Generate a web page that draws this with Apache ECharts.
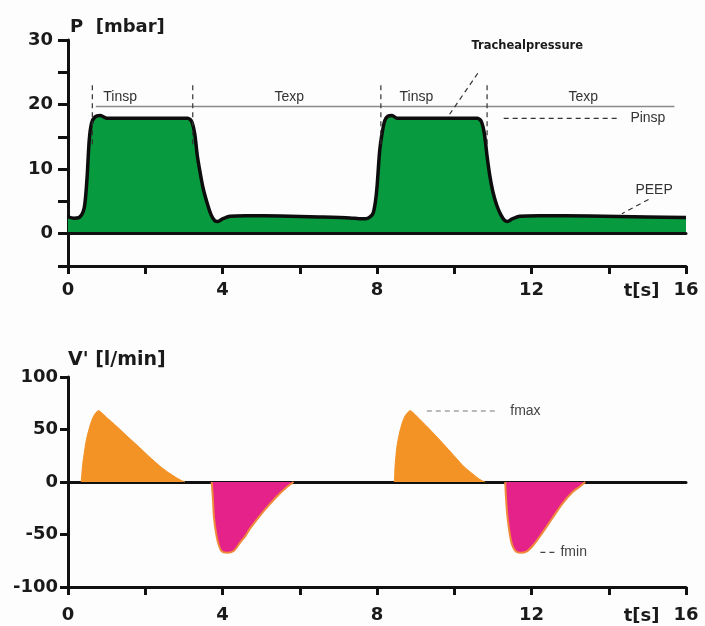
<!DOCTYPE html>
<html>
<head>
<meta charset="utf-8">
<script src="https://cdn.jsdelivr.net/npm/echarts@6/dist/echarts.min.js"></script>
<style>
html,body{margin:0;padding:0;background:#fdfdfd;}
#chart{width:705px;height:626px;}
</style>
</head>
<body>
<div id="chart"></div>
<script>
// ---------- DATA ----------
// Tracheal pressure P [mbar] over time t [s]
const pressTime  = [0, 0.15, 0.28, 0.36, 0.42, 0.46, 0.5, 0.55, 0.61, 0.7, 0.83, 1.0, 2.0, 3.1, 3.2, 3.28, 3.35, 3.42, 3.5, 3.6, 3.7, 3.8, 3.88, 4.0, 4.2, 4.6, 5.5, 6.5, 7.3, 7.6, 7.7, 7.82, 7.9, 7.96, 8.0, 8.07, 8.13, 8.2, 8.28, 8.39, 8.52, 9.5, 10.6, 10.7, 10.78, 10.85, 10.92, 11.0, 11.1, 11.2, 11.3, 11.38, 11.5, 11.7, 12.2, 13.5, 15.0, 16.0];
const pressValue = [2.6, 2.4, 2.5, 3.0, 4.0, 6.0, 9.3, 14.5, 17.1, 18.1, 18.3, 17.9, 17.9, 17.9, 17.4, 15.5, 12.0, 9.5, 7.0, 4.8, 3.0, 2.0, 1.9, 2.3, 2.7, 2.8, 2.75, 2.6, 2.45, 2.3, 2.3, 2.6, 3.2, 5.0, 7.2, 12.9, 15.5, 17.5, 18.2, 18.3, 17.9, 17.9, 17.9, 17.4, 15.5, 12.0, 9.0, 6.5, 4.4, 3.0, 2.1, 1.9, 2.3, 2.7, 2.8, 2.75, 2.6, 2.5];

// Flow V' [l/min]: inspiration (positive) and expiration (negative)
const insp1Time  = [0.34, 0.36, 0.38, 0.41, 0.44, 0.48, 0.53, 0.59, 0.66, 0.72, 0.79, 1.0, 1.26, 1.55, 1.86, 2.12, 2.38, 2.6, 2.81, 2.93, 3.03];
const insp1Value = [0, 9, 16.7, 25, 32.5, 41, 48.3, 56, 62.6, 66, 68, 61.5, 53, 43, 32.6, 23.5, 15.1, 9, 4, 1.5, 0];
const insp2Time  = [8.45, 8.46, 8.47, 8.49, 8.51, 8.55, 8.59, 8.65, 8.72, 8.79, 8.86, 9.06, 9.29, 9.55, 9.81, 10.03, 10.24, 10.45, 10.62, 10.72, 10.8];
const insp2Value = [0, 9, 16.7, 25, 32.5, 41, 48, 56, 62.6, 66, 68, 61.5, 53, 43, 32.6, 23.5, 15, 8.5, 3.5, 1.2, 0];
const exp1Time   = [3.72, 3.75, 3.78, 3.84, 3.9, 3.98, 4.11, 4.28, 4.45, 4.6, 4.72, 5.06, 5.4, 5.66, 5.84];
const exp1Value  = [0, -15, -34, -50, -59.6, -66, -67.4, -66, -58, -51, -44, -28, -14, -5, 0];
const exp2Time   = [11.32, 11.34, 11.38, 11.44, 11.5, 11.59, 11.71, 11.88, 12.05, 12.27, 12.53, 12.79, 13.05, 13.26, 13.39];
const exp2Value  = [0, -15, -34, -50, -60, -66, -67.4, -66, -60, -49, -35, -21, -10, -4, 0];

// Axis ticks
const xTicks = [0, 4, 8, 12, 16];
const pTickLabels = [0, 10, 20, 30];
const fTickLabels = [-100, -50, 0, 50, 100];

// Annotations (data coordinates)
const phaseLabels = ['Tinsp', 'Texp', 'Tinsp', 'Texp'];
const phaseLabelTime = [1.35, 5.73, 9.02, 13.34];
const phaseLabelValue = 21.2;
const phaseBoundTime = [0.63, 3.23, 8.1, 10.85];
const phaseBoundRange = [23, 13.5];
const phaseLineValue = 19.7;
const phaseLineRange = [0.72, 15.7];

// ---------- CHART ----------
const zip = (a, b) => a.map((t, i) => [t, b[i]]);
const chart = echarts.init(document.getElementById('chart'), null, {renderer: 'canvas'});

const BOLD = 'bold 18px "DejaVu Sans", Verdana, sans-serif';
const axisLabelStyle = {color: '#1a1a1a', fontFamily: 'DejaVu Sans', fontWeight: 'bold', fontSize: 18};
const blackLine = {color: '#111', width: 3};

function xAxisMain(g, margin) {
  return {
    type: 'value', gridIndex: g, min: 0, max: 16, interval: 2,
    axisLine: {show: true, onZero: false, lineStyle: blackLine},
    axisTick: {show: true, length: 8, lineStyle: {color: '#111', width: 3}},
    axisLabel: {show: true, margin: margin, ...axisLabelStyle,
      formatter: v => (xTicks.indexOf(v) >= 0 ? String(v) : '')},
    splitLine: {show: false}
  };
}
function xAxisZero(g, z) {
  return {
    type: 'value', gridIndex: g, min: 0, max: 16, position: 'top', z: z,
    axisLine: {show: true, onZero: true, lineStyle: blackLine},
    axisTick: {show: false}, axisLabel: {show: false}, splitLine: {show: false}
  };
}

const option = {
  backgroundColor: '#fdfdfd',
  animation: false,
  grid: [
    {left: 68, right: 19, top: 40, height: 226},
    {left: 68, right: 19, top: 377, height: 210}
  ],
  xAxis: [
    xAxisMain(0, 15),
    xAxisMain(1, 19),
    xAxisZero(0, 5),
    xAxisZero(1, 0)
  ],
  yAxis: [
    {
      type: 'value', gridIndex: 0, min: -5, max: 30, interval: 5,
      axisLine: {show: true, onZero: false, lineStyle: blackLine},
      axisTick: {show: true, length: 10, lineStyle: {color: '#111', width: 3}},
      axisLabel: {margin: 15, ...axisLabelStyle,
        formatter: v => (pTickLabels.indexOf(v) >= 0 ? String(v) : '')},
      splitLine: {show: false}
    },
    {
      type: 'value', gridIndex: 1, min: -100, max: 100, interval: 50,
      axisLine: {show: true, onZero: false, lineStyle: blackLine},
      axisTick: {show: true, length: 8, lineStyle: {color: '#111', width: 3}},
      axisLabel: {margin: 10, ...axisLabelStyle,
        formatter: v => (fTickLabels.indexOf(v) >= 0 ? String(v) : '')},
      splitLine: {show: false}
    }
  ],
  series: [
    {
      type: 'line', xAxisIndex: 0, yAxisIndex: 0, z: 3,
      data: zip(pressTime, pressValue),
      smooth: 0.25, symbol: 'none',
      lineStyle: {color: '#0d0d0d', width: 3.5},
      areaStyle: {color: '#089a3e', opacity: 1, origin: 0}
    },
    {
      type: 'line', xAxisIndex: 1, yAxisIndex: 1, z: 3,
      data: zip(insp1Time, insp1Value), smooth: 0.15, symbol: 'none',
      lineStyle: {color: '#f39225', width: 1},
      areaStyle: {color: '#f39225', opacity: 1, origin: 0}
    },
    {
      type: 'line', xAxisIndex: 1, yAxisIndex: 1, z: 3,
      data: zip(insp2Time, insp2Value), smooth: 0.15, symbol: 'none',
      lineStyle: {color: '#f39225', width: 1},
      areaStyle: {color: '#f39225', opacity: 1, origin: 0}
    },
    {
      type: 'line', xAxisIndex: 1, yAxisIndex: 1, z: 3,
      data: zip(exp1Time, exp1Value), smooth: 0.3, symbol: 'none',
      lineStyle: {color: '#f0883a', width: 2},
      areaStyle: {color: '#e5228a', opacity: 1, origin: 0}
    },
    {
      type: 'line', xAxisIndex: 1, yAxisIndex: 1, z: 3,
      data: zip(exp2Time, exp2Value), smooth: 0.3, symbol: 'none',
      lineStyle: {color: '#f0883a', width: 2},
      areaStyle: {color: '#e5228a', opacity: 1, origin: 0}
    }
  ]
};
chart.setOption(option);

// ---------- ANNOTATIONS (placed via data -> pixel conversion) ----------
const px = (g, t, v) => chart.convertToPixel({gridIndex: g}, [t, v]);
const gfx = [];
function text(g, t, v, str, font, fill, align) {
  const p = px(g, t, v);
  gfx.push({type: 'text', x: p[0], y: p[1], z: 20,
    style: {text: str, font: font, fill: fill, textAlign: align || 'center', textVerticalAlign: 'middle',
            align: align || 'center', verticalAlign: 'middle'}});
}
function line(g, a, b, stroke, width, dash) {
  const p1 = px(g, a[0], a[1]), p2 = px(g, b[0], b[1]);
  gfx.push({type: 'line', z: 20, shape: {x1: p1[0], y1: p1[1], x2: p2[0], y2: p2[1]},
    style: {stroke: stroke, lineWidth: width, lineDash: dash || null}});
}
const LABEL = '14px "Liberation Sans", Arial, sans-serif';

// top chart
line(0, [phaseLineRange[0], phaseLineValue], [phaseLineRange[1], phaseLineValue], '#8a8a8a', 1.5);
phaseBoundTime.forEach(t => line(0, [t, phaseBoundRange[0]], [t, phaseBoundRange[1]], '#333', 1.2, [5, 4]));
phaseLabels.forEach((s, i) => text(0, phaseLabelTime[i], phaseLabelValue, s, LABEL, '#333'));
text(0, 11.89, 29.1, 'Trachealpressure', 'bold 11.5px "DejaVu Sans", Verdana, sans-serif', '#1a1a1a');
line(0, [10.61, 24.85], [9.88, 18.5], '#333', 1.2, [5, 4]);
line(0, [11.28, 17.86], [14.26, 17.86], '#333', 1.2, [5, 4]);
text(0, 14.56, 17.9, 'Pinsp', LABEL, '#333', 'left');
text(0, 14.69, 6.7, 'PEEP', LABEL, '#333', 'left');
line(0, [15.03, 5.3], [14.34, 3.1], '#333', 1.2, [5, 4]);

// bottom chart
line(1, [9.29, 67.6], [11.06, 67.6], '#777', 1.2, [5, 4]);
text(1, 11.45, 67.6, 'fmax', LABEL, '#444', 'left');
line(1, [12.23, -67], [12.62, -67], '#444', 1.2, [5, 4]);
text(1, 12.75, -67, 'fmin', LABEL, '#444', 'left');

// titles and axis unit labels
const topLeft0 = px(0, 0, 30);
gfx.push({type: 'text', x: topLeft0[0] + 2, y: topLeft0[1] - 13, z: 20,
  style: {text: 'P  [mbar]', font: BOLD, fill: '#1a1a1a', textAlign: 'left', textVerticalAlign: 'middle', align: 'left', verticalAlign: 'middle'}});
const topLeft1 = px(1, 0, 100);
gfx.push({type: 'text', x: topLeft1[0], y: topLeft1[1] - 17, z: 20,
  style: {text: "V' [l/min]", font: 'bold 19px "DejaVu Sans", Verdana, sans-serif', fill: '#1a1a1a', textAlign: 'left', textVerticalAlign: 'middle', align: 'left', verticalAlign: 'middle'}});
const ts0 = px(0, 14.85, -5), ts1 = px(1, 14.85, -100);
gfx.push({type: 'text', x: ts0[0], y: ts0[1] + 25, z: 20,
  style: {text: 't[s]', font: BOLD, fill: '#1a1a1a', textAlign: 'center', textVerticalAlign: 'middle', align: 'center', verticalAlign: 'middle'}});
gfx.push({type: 'text', x: ts1[0], y: ts1[1] + 29, z: 20,
  style: {text: 't[s]', font: BOLD, fill: '#1a1a1a', textAlign: 'center', textVerticalAlign: 'middle', align: 'center', verticalAlign: 'middle'}});

chart.setOption({graphic: gfx});
</script>
</body>
</html>
